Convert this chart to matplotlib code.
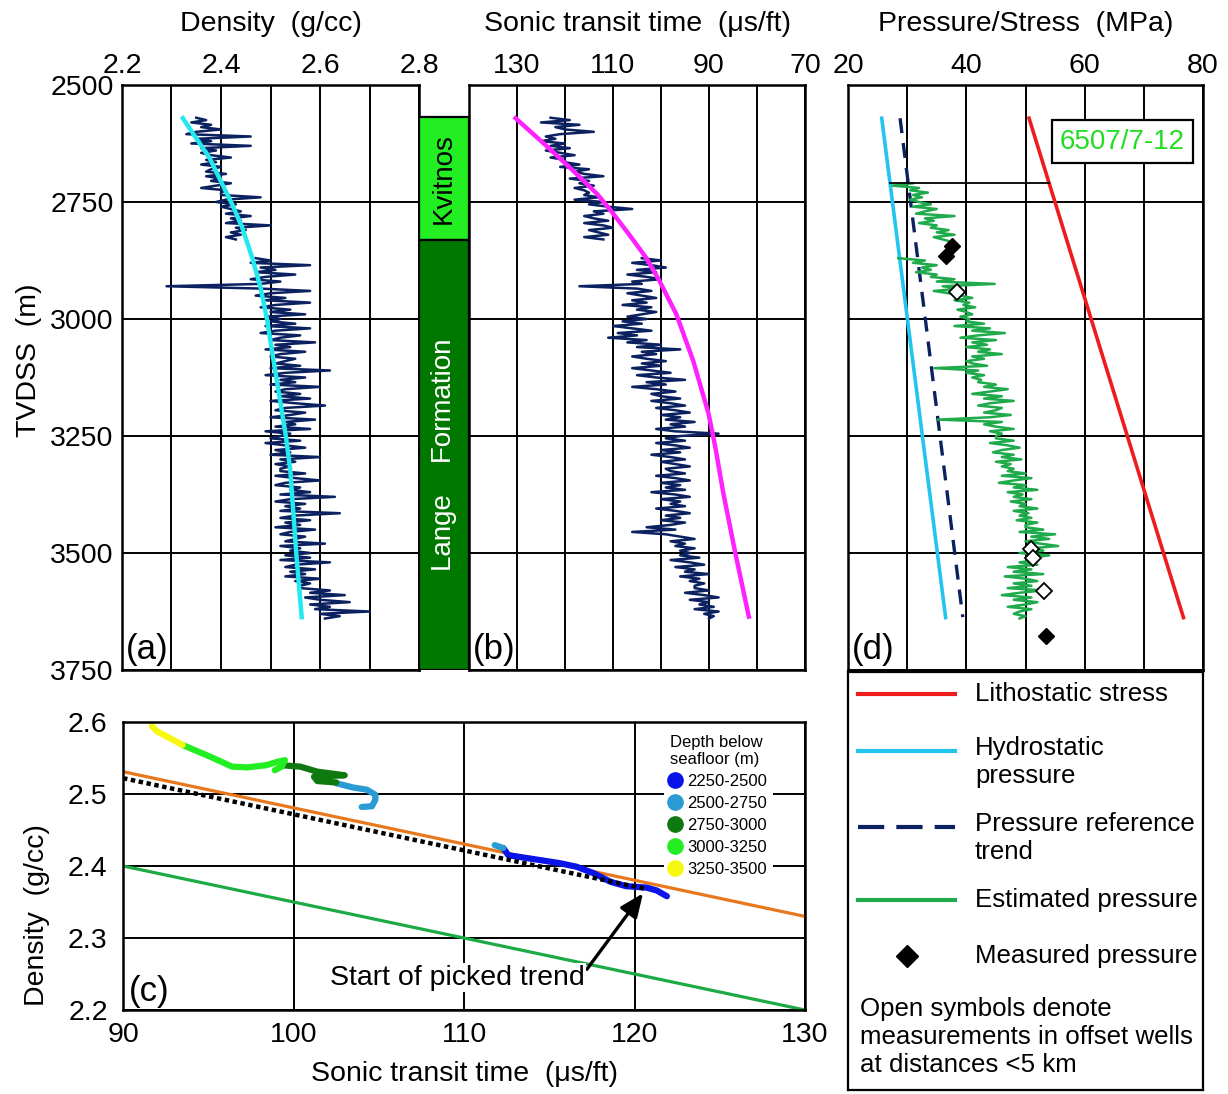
import numpy as np
import matplotlib
matplotlib.use("Agg")
import matplotlib.pyplot as plt
from matplotlib.lines import Line2D

plt.rcParams['font.family'] = ['Liberation Sans', 'DejaVu Sans']

# ---------------------------------------------------------------- data
depth_ticks = [2500, 2750, 3000, 3250, 3500, 3750]
density_ticks = [2.2, 2.4, 2.6, 2.8]
density_grid = [2.3, 2.5, 2.7]
sonic_ticks = [130, 110, 90, 70]
sonic_grid = [120, 100, 80]
pressure_ticks = [20, 40, 60, 80]
pressure_grid = [30, 50, 70]

log_top = 2570      # first log sample (m TVDSS)
log_step = 5        # sample interval (m)
density_log = [
    2.35, 2.37, 2.34, 2.38, 2.36, 2.40, 2.35,
    2.33, 2.46, 2.35, 2.38, 2.34, 2.46, 2.36, 2.39,
    2.36, 2.38, 2.42, 2.37, 2.39, 2.36, 2.40, 2.38, 2.37, 2.41,
    2.37, 2.40, 2.38, 2.42, 2.39, 2.36, 2.41, 2.40,
    2.40, 2.48, 2.41, 2.39, 2.43, 2.40, 2.42, 2.44, 2.41, 2.46,
    2.42, 2.44, 2.41, 2.50, 2.43, 2.45, 2.42, 2.44, 2.41, 2.43,
    np.nan, np.nan, np.nan, np.nan, np.nan, np.nan, np.nan,
    2.47, 2.50, 2.46, 2.58, 2.48, 2.51, 2.47, 2.55, 2.49, 2.46, 2.52, 2.48, 2.29,
    2.48, 2.58, 2.50, 2.47, 2.53, 2.49, 2.58, 2.51, 2.48, 2.54, 2.50, 2.57, 2.49, 2.52,
    2.50, 2.55, 2.49, 2.58, 2.51, 2.48, 2.56, 2.52, 2.50, 2.59, 2.51, 2.54, 2.49, 2.57, 2.52, 2.50, 2.55, 2.53,
    2.51, 2.56, 2.50, 2.62, 2.53, 2.49, 2.57, 2.52, 2.55, 2.50, 2.60, 2.53, 2.51, 2.56,
    2.52, 2.58, 2.50, 2.55, 2.61, 2.53, 2.51, 2.57, 2.54, 2.50, 2.59, 2.53, 2.55, 2.51, 2.58, 2.49, 2.54, 2.52,
    2.50, 2.56, 2.49, 2.53, 2.57, 2.51, 2.54, 2.50, 2.60, 2.52, 2.55, 2.51, 2.54, 2.52,
    2.52, 2.57, 2.51, 2.55, 2.60, 2.53, 2.51, 2.56, 2.54, 2.58,
    2.52, 2.63, 2.54, 2.51, 2.57, 2.53, 2.56, 2.52, 2.64, 2.55,
    2.52, 2.58, 2.53, 2.56, 2.51, 2.59, 2.54, 2.52, 2.57, 2.55,
    2.53, 2.61, 2.52, 2.56, 2.54, 2.58,
    2.53, 2.58, 2.52, 2.62, 2.55, 2.53, 2.59, 2.54, 2.57, 2.53, 2.60, 2.55, 2.58, 2.56,
    2.56, 2.62, 2.58, 2.65, 2.57, 2.60, 2.66, 2.58, 2.62, 2.59, 2.70, 2.60, 2.64, 2.61,
]
sonic_log = [
    123, 119, 125, 117, 122, 120, 114, 121, 124,
    122, 125, 120, 123, 119, 124, 121, 118, 123, 120,
    120, 117, 121, 115, 118, 116, 112, 119, 115, 117, 114, 118, 116, 115,
    116, 113, 118, 112, 115, 111, 106, 114, 112, 116,
    114, 111, 116, 112, 110, 115, 113, 111, 116, 112,
    np.nan, np.nan, np.nan, np.nan, np.nan, np.nan, np.nan,
    104, 100, 106, 102, 99, 105, 101, 107, 103, 100, 106, 104, 117,
    105, 102, 107, 104, 101, 106, 103, 108, 102, 105, 101, 104, 107, 103,
    108, 104, 110, 106, 102, 109, 105, 111, 103, 107, 100, 105, 96, 104, 101, 106, 103, 99,
    104, 100, 106, 102, 98, 105, 101, 95, 103, 99, 106, 101, 97, 102,
    100, 96, 102, 98, 95, 101, 97, 94, 100, 96, 99, 93, 98, 95, 101, 97, 88, 96,
    99, 95, 101, 97, 94, 100, 96, 102, 98, 95, 100, 97, 94, 99,
    98, 95, 101, 97, 94, 100, 96, 99, 95, 102,
    97, 94, 100, 96, 98, 95, 101, 97, 94, 99,
    96, 100, 95, 98, 103, 97, 106, 99, 96, 93,
    98, 95, 97, 93, 96, 94,
    96, 92, 98, 94, 91, 97, 93, 95, 90, 96, 92, 94, 91, 93,
    93, 90, 95, 91, 88, 94, 90, 92, 89, 93, 88, 91, 89, 90,
]
est_top = 2710      # first estimated-pressure sample (m)
est_pressure = [
    31, 27.5, 32, 30.5, 33.5, 31, 32.5, 30.5,
    32, 34, 31, 35, 33, 31.5, 38, 33, 34.5, 32, 35,
    34, 37, 35, 38, 34.5, 36, 37.5,
    np.nan, np.nan, np.nan, np.nan, np.nan, np.nan,
    28.5, 33, 31, 35, 32.5, 34, 31.5, 35,
    34, 38, 35, 44.8, 36, 39, 34.5, 37,
    39, 41, 38, 40.5, 39.5, 41.5, 38.5, 40, 41, 39, 40.5,
    40, 43, 38, 44, 41, 46.5, 42, 39, 45, 41, 43.5, 40, 44, 42, 46, 41, 43, 40,
    41, 43.5, 34.6, 42, 40, 43, 41, 42.5,
    42, 45, 43, 47, 44, 41, 46, 43, 48, 44, 42, 46, 45, 43, 47.5, 44, 35.2, 46, 43, 45, 48, 44, 46, 45,
    45, 48, 44, 47, 49, 46, 44.5, 48, 46, 49.3, 45, 47.5, 46, 48,
    47, 50, 46, 51, 48, 45.5, 50, 48, 52, 47, 49.5, 48, 51, 47.5, 50, 49, 52, 48, 50.5, 49, 51, 48.5, 52, 50,
    50, 53, 49, 55, 51, 54, 50, 52.5, 55.5, 51, 53, 49, 54, 51, 52,
    49, 52, 47, 51, 48, 53, 46.5, 50, 52, 48, 51, 47, 53, 49, 46, 51, 48, 52, 50, 47, 51, 49, 48, 50, 49,
]

density_trend_depth = [2571, 2614, 2656, 2713, 2756, 2805, 2869, 2933, 3001, 3068,
                       3088, 3250, 3323, 3500, 3637]
density_trend = [2.323, 2.350, 2.377, 2.403, 2.423, 2.443, 2.463, 2.480, 2.493, 2.503,
                 2.506, 2.531, 2.540, 2.552, 2.563]
sonic_trend_depth = [2571, 2628, 2688, 2734, 2773, 2820, 2869, 2919, 2990, 3089,
                     3202, 3273, 3373, 3501, 3636]
sonic_trend = [130.3, 124.1, 117.8, 113.2, 110.1, 106.6, 103.1, 100.3, 96.8, 93.3,
               90.1, 88.7, 87.0, 84.5, 81.7]

formations = ["Kvitnos", "Lange    Formation"]
formation_top = [2568, 2832]
formation_base = [2832, 3750]
formation_colors = ['#22ee22', '#007800']
formation_text_colors = ['black', 'white']

litho_depth = [2571, 3638]
litho_p = [50.6, 76.7]
hydro_depth = [2571, 3638]
hydro_p = [25.7, 36.5]
ref_depth = [2571, 3637]
ref_p = [28.8, 39.4]
marker_line_depth = 2709
marker_line_p = [27.1, 54.0]
meas_depth = [2843, 2866, 3677]
meas_p = [37.5, 36.6, 53.5]
offset_depth = [2942, 3492, 3511, 3581]
offset_p = [38.5, 51.0, 51.3, 53.1]
well_name = "6507/7-12"

# cross-plot (c)
cp_sonic_ticks = [90, 100, 110, 120, 130]
cp_density_ticks = [2.2, 2.3, 2.4, 2.5, 2.6]
orange_sonic = [90, 130]
orange_density = [2.531, 2.330]
dotted_sonic = [90, 120.7]
dotted_density = [2.522, 2.368]
green_sonic = [90, 130]
green_density = [2.400, 2.200]
depth_classes = ["2250-2500", "2500-2750", "2750-3000", "3000-3250", "3250-3500"]
class_colors = ['#0b14e8', '#2b9bd3', '#0e790e', '#22ee22', '#f7f70f']
track_sonic = [
    [112.3, 112.6, 113.7, 115.6, 116.6, 117.6, 118.6, 119.5, 120.7, 121.3, 121.9],
    [102.5, 103.5, 104.3, 104.8, 104.8, 104.6, 104.0, np.nan, 111.8, 112.3],
    [99.3, 100.4, 101.4, 103.0, 101.2, 101.4, 102.5],
    [93.5, 95.1, 96.4, 97.3, 98.4, 99.1, 99.5, 99.3, 98.9],
    [91.7, 92.0, 92.8, 93.5],
]
track_density = [
    [2.425, 2.415, 2.411, 2.404, 2.399, 2.390, 2.378, 2.372, 2.370, 2.366, 2.358],
    [2.515, 2.509, 2.506, 2.499, 2.492, 2.483, 2.482, np.nan, 2.429, 2.425],
    [2.540, 2.538, 2.531, 2.526, 2.524, 2.518, 2.516],
    [2.568, 2.552, 2.538, 2.537, 2.540, 2.545, 2.547, 2.538, 2.533],
    [2.594, 2.587, 2.577, 2.568],
]
pick_start_sonic = 120.5
pick_start_density = 2.362

# ---------------------------------------------------------------- figure
W, H = 1228, 1094
fig = plt.figure(figsize=(W / 100, H / 100), dpi=100)


def box(l, t, r, b):
    return [l / W, 1 - b / H, (r - l) / W, (b - t) / H]


FS = 20.5     # axis text
LFS = 18.6    # legend box text
PFS = 25      # panel letters
NAVY = '#0b2160'

ax_a = fig.add_axes(box(122, 85, 419, 670))
ax_f = fig.add_axes(box(419, 85, 469, 670))
ax_b = fig.add_axes(box(469, 85, 805, 670))
ax_d = fig.add_axes(box(848, 85, 1203, 670))
ax_l = fig.add_axes(box(848, 672, 1203, 1090))
ax_c = fig.add_axes(box(123, 722, 805, 1010))


def style_track(ax, xlim, ticks, grid, title, ylabels):
    ax.set_ylim(3750, 2500)
    ax.set_xlim(*xlim)
    ax.xaxis.tick_top()
    ax.xaxis.set_label_position('top')
    ax.set_xticks(ticks)
    ax.set_xticks(grid, minor=True)
    ax.set_yticks(depth_ticks)
    ax.grid(True, which='both', color='black', lw=1.4)
    ax.tick_params(which='both', length=0, labelsize=FS, pad=4)
    ax.set_xlabel(title, fontsize=FS, labelpad=16)
    if not ylabels:
        ax.set_yticklabels([])
    for s in ax.spines.values():
        s.set_linewidth(1.8)


style_track(ax_a, (2.2, 2.8), density_ticks, density_grid, "Density  (g/cc)", True)
ax_a.set_xticklabels([f"{v:.1f}" for v in density_ticks])
style_track(ax_b, (140, 70), sonic_ticks, sonic_grid, "Sonic transit time  (\u03bcs/ft)", False)
style_track(ax_d, (20, 80), pressure_ticks, pressure_grid, "Pressure/Stress  (MPa)", False)
ax_a.tick_params(axis='y', pad=6)
ax_a.set_ylabel("TVDSS  (m)", fontsize=FS)
ax_a.yaxis.set_label_coords(-0.27, 0.53)

log_depth = log_top + log_step * np.arange(len(density_log))
ax_a.plot(density_log, log_depth, color=NAVY, lw=1.8)
ax_a.plot(density_trend, density_trend_depth, color='#22e8f0', lw=3.2)

sonic_depth = log_top + log_step * np.arange(len(sonic_log))
ax_b.plot(sonic_log, sonic_depth, color=NAVY, lw=1.8)
ax_b.plot(sonic_trend, sonic_trend_depth, color='#ff22ff', lw=3.2)

# formation column
ax_f.set_xlim(0, 1)
ax_f.set_ylim(3750, 2500)
ax_f.axis('off')
for name, top, base, fc, tc in zip(formations, formation_top, formation_base,
                                   formation_colors, formation_text_colors):
    ax_f.bar(0.5, base - top, bottom=top, width=1.0, color=fc, edgecolor='black', lw=1.6)
    ax_f.text(0.5, (top + base) / 2, name, rotation=90, ha='center', va='center',
              color=tc, fontsize=20)

# pressure panel
est_depth = est_top + log_step * np.arange(len(est_pressure))
ax_d.plot(litho_p, litho_depth, color='#ee1c1c', lw=2.6)
ax_d.plot(hydro_p, hydro_depth, color='#22c4f0', lw=2.6)
ax_d.plot(ref_p, ref_depth, color=NAVY, lw=2.4, dashes=(4.5, 3))
ax_d.plot(est_pressure, est_depth, color='#1faa4c', lw=1.8)
ax_d.plot(marker_line_p, [marker_line_depth] * 2, color='black', lw=1.3)
ax_d.plot(meas_p, meas_depth, ls='', marker='D', color='black', ms=8.5)
ax_d.plot(offset_p, offset_depth, ls='', marker='D', mfc='white', mec='black', ms=8, mew=1.3)
ax_d.text(0.773, 0.903, well_name, transform=ax_d.transAxes, ha='center', va='center',
          fontsize=20, color='#22dd22',
          bbox=dict(boxstyle='square,pad=0.3', fc='white', ec='black', lw=1.6))

for ax, lab in [(ax_a, "(a)"), (ax_b, "(b)"), (ax_d, "(d)")]:
    ax.text(0.012, 0.006, lab, transform=ax.transAxes, fontsize=PFS, ha='left', va='bottom')

# legend box for (d)
ax_l.set_xlim(848, 1203)
ax_l.set_ylim(1090, 672)
ax_l.set_xticks([])
ax_l.set_yticks([])
for s in ax_l.spines.values():
    s.set_linewidth(1.6)
ax_l.plot([858, 955], [694, 694], color='#ee1c1c', lw=3)
ax_l.text(975, 694, "Lithostatic stress", fontsize=LFS, va='center')
ax_l.plot([858, 955], [751, 751], color='#22c4f0', lw=3)
ax_l.text(975, 762, "Hydrostatic\npressure", fontsize=LFS, va='center', linespacing=1.17)
ax_l.plot([858, 955], [827, 827], color=NAVY, lw=3, dashes=(6.3, 2.9))
ax_l.text(975, 838, "Pressure reference\ntrend", fontsize=LFS, va='center', linespacing=1.17)
ax_l.plot([858, 955], [900, 900], color='#1faa4c', lw=3)
ax_l.text(975, 900, "Estimated pressure", fontsize=LFS, va='center')
ax_l.plot([907], [956], ls='', marker='D', color='black', ms=11)
ax_l.text(975, 956, "Measured pressure", fontsize=LFS, va='center')
ax_l.text(860, 1037, "Open symbols denote\nmeasurements in offset wells\nat distances <5 km",
          fontsize=LFS, va='center', linespacing=1.2)

# cross-plot (c)
ax_c.set_xlim(90, 130)
ax_c.set_ylim(2.2, 2.6)
ax_c.set_xticks(cp_sonic_ticks)
ax_c.set_yticks(cp_density_ticks)
ax_c.set_yticklabels([f"{v:.1f}" for v in cp_density_ticks])
ax_c.grid(True, color='black', lw=1.4)
ax_c.tick_params(length=0, labelsize=FS, pad=9)
ax_c.tick_params(axis='y', pad=11)
for s in ax_c.spines.values():
    s.set_linewidth(1.8)
ax_c.plot(orange_sonic, orange_density, color='#e8781e', lw=2.3)
ax_c.plot(green_sonic, green_density, color='#1daa45', lw=2.3)
for xs, ys, c in zip(track_sonic, track_density, class_colors):
    ax_c.plot(xs, ys, color=c, lw=4.5, solid_capstyle='round', solid_joinstyle='round')
ax_c.plot(dotted_sonic, dotted_density, color='black', lw=3.2, ls=(0, (1, 0.8)))
ax_c.set_xlabel("Sonic transit time  (\u03bcs/ft)", fontsize=FS, labelpad=9)
ax_c.set_ylabel("Density  (g/cc)", fontsize=FS)
ax_c.yaxis.set_label_coords(-0.107, 0.33)
ax_c.text(0.008, 0.008, "(c)", transform=ax_c.transAxes, fontsize=PFS, ha='left', va='bottom')

handles = [Line2D([], [], ls='', marker='o', ms=11, color=c) for c in class_colors]
leg = ax_c.legend(handles, depth_classes, title="Depth below\nseafloor (m)",
                  loc='upper right', bbox_to_anchor=(0.965, 1.005), fontsize=12,
                  title_fontsize=12, frameon=True, fancybox=False, edgecolor='none',
                  facecolor='white', framealpha=1, handlelength=0.7, handletextpad=0.35,
                  labelspacing=0.42, borderpad=0.35, alignment='left')
leg.get_frame().set_linewidth(0)

ax_c.annotate("Start of picked trend", xy=(pick_start_sonic, pick_start_density),
              xytext=(109.6, 2.245), ha='center', va='center', fontsize=FS,
              bbox=dict(boxstyle='square,pad=0.05', fc='white', ec='none'),
              arrowprops=dict(arrowstyle='-|>,head_length=0.7,head_width=0.3',
                              color='black', lw=2.4, relpos=(1.0, 0.7),
                              shrinkA=1, shrinkB=0))

fig.savefig("out.png", dpi=100)
